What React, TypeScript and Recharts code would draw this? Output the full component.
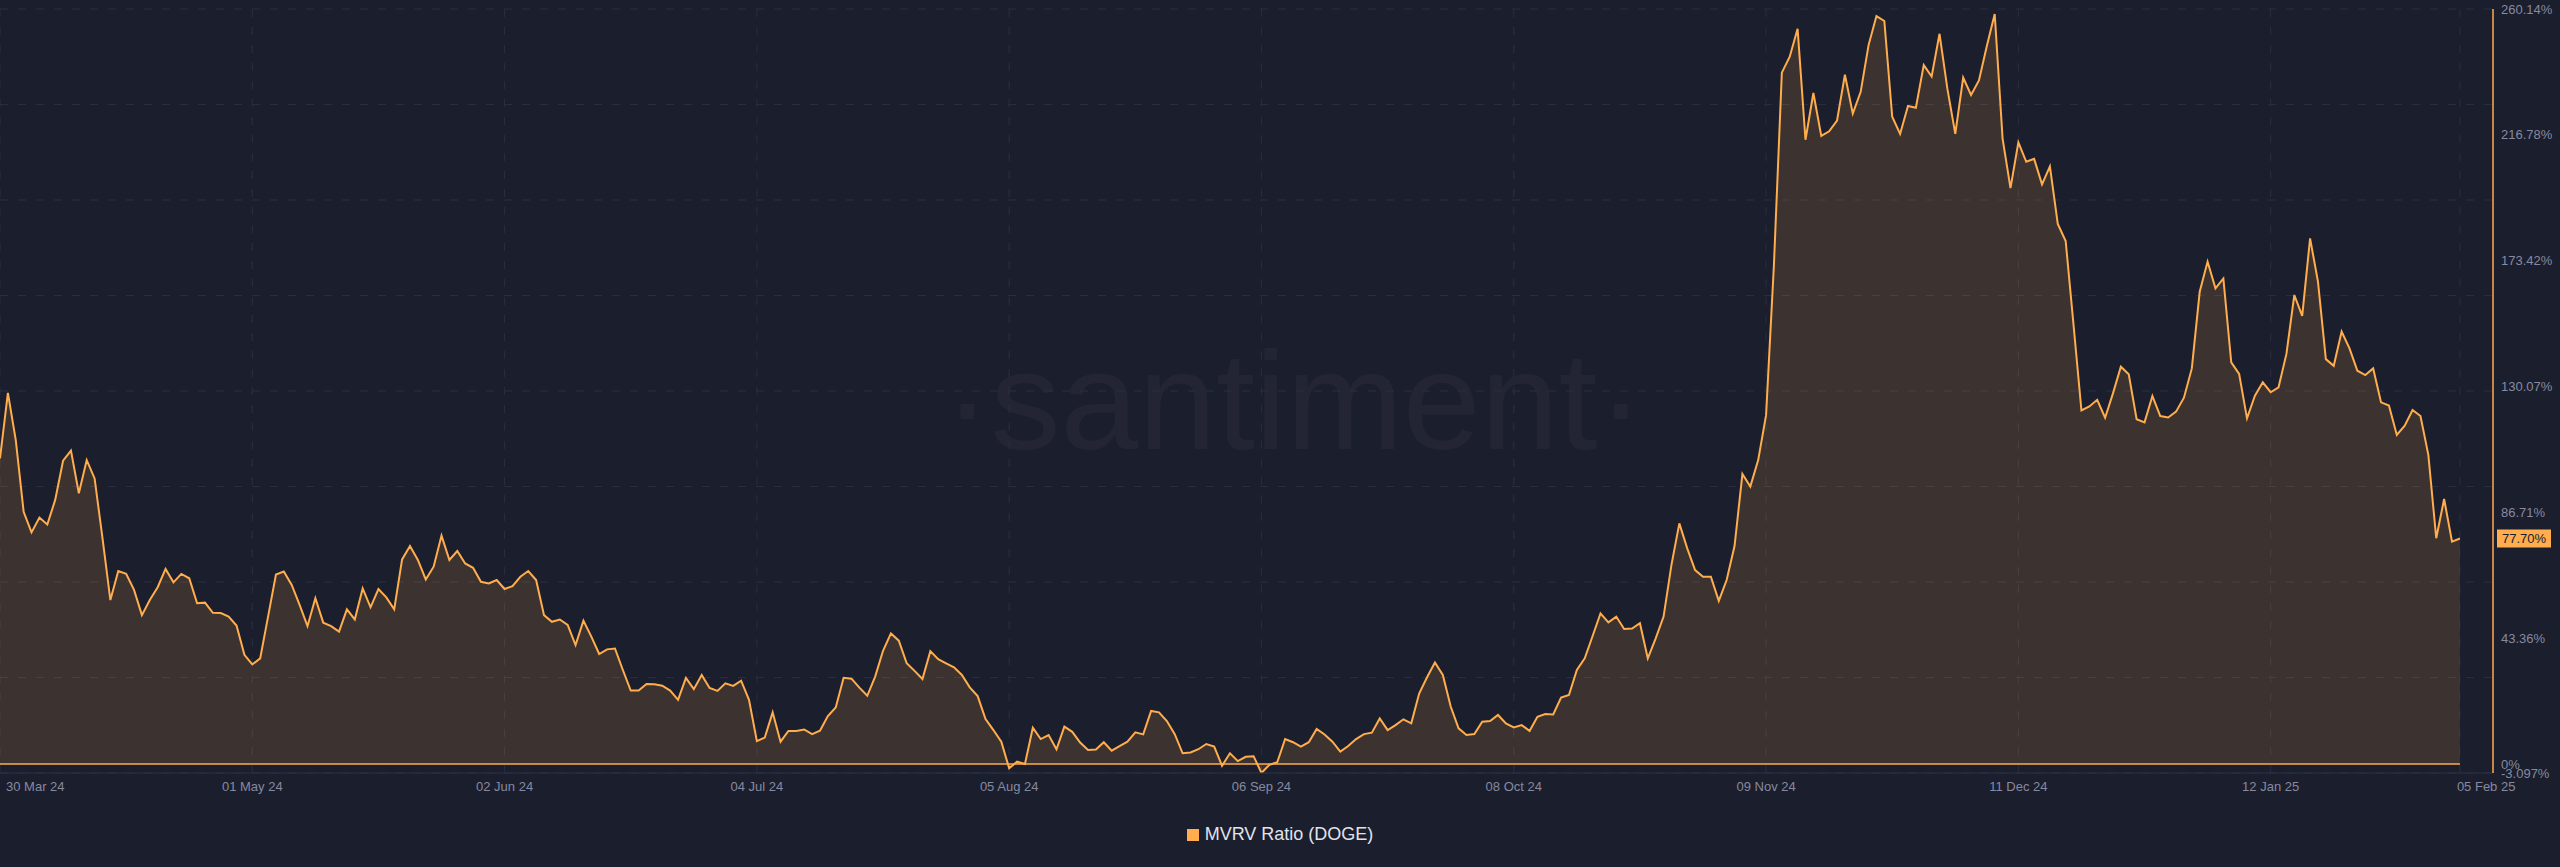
import React from 'react';
import { AreaChart, Area, XAxis, YAxis, CartesianGrid, ReferenceLine } from 'recharts';

// MVRV ratio (DOGE), daily values in %, 30 Mar 2024 -> 05 Feb 2025
const MAR = [105.3, 127.9];
const APR = [
  111.6, 86.9, 79.8, 84.9, 82.5, 91.0, 104.5, 108.0, 93.3, 104.7, 98.4, 77.8, 56.5, 66.5, 65.5,
  60.0, 51.3, 56.5, 60.9, 67.2, 62.6, 65.5, 64.0, 55.4, 55.6, 52.1, 52.0, 50.8, 47.7, 37.6,
];
const MAY = [
  34.3, 36.4, 50.8, 65.3, 66.3, 61.7, 54.8, 47.5, 57.1, 48.7, 47.5, 45.6, 53.3, 49.8, 60.5, 54.0,
  60.3, 57.4, 53.3, 70.5, 75.1, 70.3, 63.6, 68.0, 78.7, 70.3, 73.4, 69.1, 67.6, 62.8, 62.2,
];
const JUN = [
  63.4, 60.3, 61.3, 64.5, 66.5, 63.4, 51.3, 49.0, 49.8, 47.9, 41.0, 49.4, 43.9, 37.9, 39.5, 39.8,
  32.4, 25.3, 25.3, 27.6, 27.5, 27.0, 25.3, 22.1, 29.7, 25.8, 30.7, 26.2, 25.2, 27.8,
];
const JUL = [
  26.9, 28.7, 22.1, 7.9, 9.1, 17.8, 7.7, 11.4, 11.4, 11.9, 10.3, 11.5, 16.5, 19.5, 29.7, 29.4,
  26.3, 23.5, 30.1, 39.0, 45.0, 42.5, 34.7, 32.1, 29.3, 38.9, 36.1, 34.7, 33.3, 30.7, 26.4,
];
const AUG = [
  23.4, 15.5, 11.7, 7.7, -1.5, 0.8, 0.0, 12.5, 8.6, 10.0, 5.1, 12.9, 11.1, 7.4, 4.8, 5.0, 7.5,
  4.6, 6.2, 7.7, 10.9, 10.2, 18.3, 17.8, 14.8, 10.3, 3.7, 4.0, 5.1, 6.9, 6.0,
];
const SEP = [
  -0.6, 3.7, 1.0, 2.5, 2.7, -3.09, -0.3, 0.6, 8.6, 7.5, 6.0, 7.5, 12.1, 10.2, 7.7, 4.3, 6.2, 8.6,
  10.3, 10.8, 15.7, 11.7, 13.4, 15.4, 14.0, 24.3, 29.9, 35.0, 30.7, 19.8,
];
const OCT = [
  12.3, 10.0, 10.3, 14.6, 14.8, 16.9, 14.0, 12.6, 13.4, 11.4, 16.3, 17.2, 17.1, 22.9, 23.8, 32.4,
  36.4, 44.1, 51.9, 48.8, 50.8, 46.5, 46.7, 48.5, 36.4, 43.3, 50.8, 68.6, 82.9, 74.3, 66.8,
];
const NOV = [
  64.5, 64.5, 56.2, 63.4, 75.1, 99.9, 95.6, 104.7, 120.2, 172.2, 238.2, 243.7, 253.3, 215.1, 231.2,
  216.4, 218.0, 221.7, 237.5, 224.1, 231.6, 247.7, 257.7, 256.0, 223.0, 217.1, 226.7, 226.1, 240.8,
  236.9,
];
const DEC = [
  251.6, 232.6, 217.1, 236.5, 230.5, 235.5, 247.4, 258.4, 215.5, 198.4, 214.2, 207.5, 208.5, 199.7,
  205.9, 186.1, 180.2, 151.2, 121.8, 123.2, 125.5, 119.3, 127.7, 136.9, 134.3, 118.8, 117.7, 126.8,
  119.9, 119.4, 121.4,
];
const JAN = [
  126.2, 136.3, 162.7, 173.1, 163.9, 167.3, 138.4, 134.4, 119.1, 126.9, 131.5, 128.1, 129.8, 141.3,
  161.6, 154.4, 181.1, 166.2, 139.5, 137.2, 149.0, 143.2, 135.5, 134.0, 136.3, 124.6, 123.5, 113.4,
  116.6, 122.0, 119.9,
];
const FEB = [106.5, 77.8, 91.3, 76.6, 77.7];

const START_DATE = Date.UTC(2024, 2, 30);
const X_TICKS = [0, 32, 64, 96, 128, 160, 192, 224, 256, 288, 312];
const X_TICK_LABELS = [
  '30 Mar 24', '01 May 24', '02 Jun 24', '04 Jul 24', '05 Aug 24', '06 Sep 24',
  '08 Oct 24', '09 Nov 24', '11 Dec 24', '12 Jan 25', '05 Feb 25',
];
const Y_TICKS = [-3.097, 0, 43.36, 86.71, 130.07, 173.42, 216.78, 260.14];
const Y_TICK_LABELS = ['-3.097%', '0%', '43.36%', '86.71%', '130.07%', '173.42%', '216.78%', '260.14%'];
const GRID_VALUES = [-3.097, 29.81, 62.71, 95.62, 128.52, 161.43, 194.33, 227.24, 260.14];
const LAST_LABEL = '77.70%';

const MVRV = [...MAR, ...APR, ...MAY, ...JUN, ...JUL, ...AUG, ...SEP, ...OCT, ...NOV, ...DEC, ...JAN, ...FEB];
const data = MVRV.map((v, i) => ({
  i,
  date: new Date(START_DATE + i * 86400000).toISOString().slice(0, 10),
  v,
}));
const lastValue = MVRV[MVRV.length - 1];

const BG = '#1b1e2d';
const ORANGE = '#ffad4d';
const MUTED = '#858aa1';
const GRID = '#2a2e42';
const FONT = "'Liberation Sans', Arial, sans-serif";

const XTick = (props: any) => {
  const { x, y, payload } = props;
  const idx = X_TICKS.indexOf(payload.value);
  const first = idx === 0;
  const last = idx === X_TICKS.length - 1;
  return (
    <text
      x={x + (first ? 6 : last ? -3 : 0)}
      y={y + 18}
      textAnchor={first || last ? 'start' : 'middle'}
      fill={MUTED}
      fontSize={13}
      fontFamily={FONT}
    >
      {X_TICK_LABELS[idx]}
    </text>
  );
};

const YTick = (props: any) => {
  const { x, y, payload } = props;
  const idx = Y_TICKS.indexOf(payload.value);
  return (
    <text x={x} y={y} dy="0.35em" textAnchor="start" fill={MUTED} fontSize={13} fontFamily={FONT}>
      {Y_TICK_LABELS[idx]}
    </text>
  );
};

const Badge = (props: any) => {
  const vb = props.viewBox;
  const bx = vb.x + vb.width + 4;
  return (
    <g>
      <rect x={bx} y={vb.y - 9} width={54} height={18} fill={ORANGE} />
      <text x={bx + 27} y={vb.y} dy="0.35em" textAnchor="middle" fill="#1b1e2d" fontSize={13} fontFamily={FONT}>
        {LAST_LABEL}
      </text>
    </g>
  );
};

export default function App() {
  return (
    <div style={{ position: 'fixed', left: 0, top: 0, width: 2560, height: 867, background: BG, overflow: 'hidden' }}>
      <svg width={2560} height={867} style={{ position: 'absolute', left: 0, top: 0 }}>
        <text x={1294} y={449} textAnchor="middle" fontSize={140} fontFamily={FONT} fill="rgba(255,255,255,0.035)">
          ·santiment·
        </text>
      </svg>
      <div style={{ position: 'absolute', left: 0, top: 0 }}>
        <AreaChart width={2560} height={867} data={data} margin={{ top: 9, right: 0, bottom: 64, left: 0 }}>
          <CartesianGrid
            stroke={GRID}
            strokeDasharray="8 10"
            horizontalValues={GRID_VALUES}
            verticalValues={X_TICKS}
          />
          <XAxis
            dataKey="i"
            type="number"
            domain={[0, 316.2]}
            allowDataOverflow
            ticks={X_TICKS}
            interval={0}
            height={30}
            tickSize={0}
            tickMargin={0}
            tickLine={false}
            axisLine={{ stroke: '#2c3146' }}
            tick={<XTick />}
          />
          <YAxis
            orientation="right"
            type="number"
            domain={[-3.097, 260.14]}
            allowDataOverflow
            ticks={Y_TICKS}
            interval={0}
            width={67}
            tickSize={0}
            tickMargin={8}
            tickLine={false}
            axisLine={{ stroke: ORANGE, strokeWidth: 1.5 }}
            tick={<YTick />}
          />
          <Area
            type="linear"
            dataKey="v"
            stroke={ORANGE}
            strokeWidth={2}
            fill={ORANGE}
            fillOpacity={0.15}
            baseValue={0}
            dot={false}
            activeDot={false}
            isAnimationActive={false}
          />
          <ReferenceLine
            segment={[{ x: 0, y: 0 }, { x: MVRV.length - 1, y: 0 }]}
            stroke={ORANGE}
            strokeWidth={1.5}
          />
          <ReferenceLine y={lastValue} stroke="none" label={<Badge />} />
        </AreaChart>
      </div>
      <div
        style={{
          position: 'absolute',
          left: 0,
          top: 824,
          width: 2560,
          display: 'flex',
          justifyContent: 'center',
          alignItems: 'center',
          fontFamily: FONT,
          fontSize: 18,
          color: '#e1e3ec',
        }}
      >
        <span style={{ width: 12, height: 12, background: ORANGE, marginRight: 6, display: 'inline-block' }} />
        <span>MVRV Ratio (DOGE)</span>
      </div>
    </div>
  );
}
